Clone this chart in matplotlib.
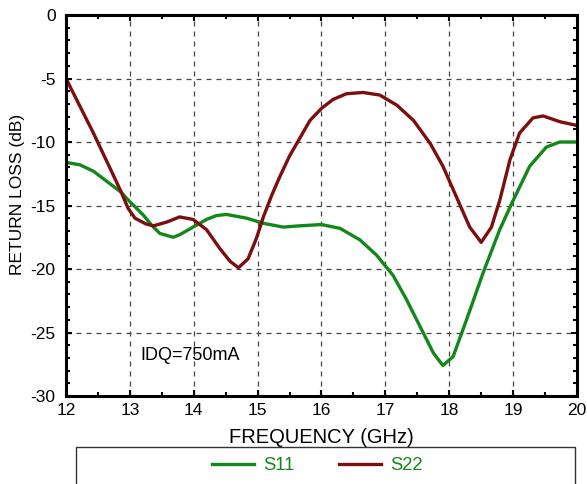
import matplotlib
matplotlib.use("Agg")
import matplotlib.pyplot as plt
from matplotlib.patches import Rectangle
from matplotlib.ticker import MultipleLocator

plt.rcParams['font.family'] = ['Liberation Sans', 'DejaVu Sans']
plt.rcParams['axes.unicode_minus'] = False

# S11
s11_freq = [12.0, 12.22, 12.43, 12.64, 12.85, 13.0, 13.21, 13.35, 13.47, 13.68,
            13.78, 13.99, 14.2, 14.35, 14.51, 14.83, 15.09, 15.4, 15.66, 16.0, 16.29,
            16.6, 16.86, 17.12, 17.33, 17.54, 17.75, 17.9, 18.06, 18.27, 18.53,
            18.79, 19.0, 19.26, 19.52, 19.73, 20.0]
s11_db = [-11.6, -11.8, -12.3, -13.1, -13.9, -14.7, -15.75, -16.6, -17.2, -17.5,
          -17.3, -16.7, -16.1, -15.8, -15.7, -16.0, -16.4, -16.7, -16.6, -16.5, -16.8,
          -17.7, -18.9, -20.5, -22.4, -24.5, -26.6, -27.6, -26.9, -24.0, -20.3,
          -16.9, -14.6, -11.9, -10.4, -10.0, -10.0]

# S22
s22_freq = [12.0, 12.22, 12.43, 12.58, 12.74, 12.87, 12.97, 13.08, 13.25, 13.37,
            13.58, 13.78, 13.99, 14.2, 14.41, 14.57, 14.7, 14.85, 14.98, 15.09,
            15.22, 15.35, 15.5, 15.66, 15.82, 16.0, 16.18, 16.39, 16.65, 16.91,
            17.18, 17.44, 17.7, 17.9, 18.11, 18.32, 18.5, 18.66, 18.79, 18.95,
            19.1, 19.31, 19.47, 19.73, 20.0]
s22_db = [-5.0, -7.2, -9.3, -10.9, -12.6, -14.0, -15.2, -16.0, -16.45, -16.6,
          -16.3, -15.9, -16.1, -16.9, -18.4, -19.4, -19.9, -19.2, -17.6, -15.9,
          -14.2, -12.7, -11.1, -9.7, -8.3, -7.35, -6.65, -6.2, -6.1, -6.3,
          -7.1, -8.3, -10.1, -11.9, -14.3, -16.7, -17.9, -16.7, -14.6, -11.4,
          -9.3, -8.1, -7.95, -8.4, -8.7]

GREEN = '#13881a'
RED = '#7d0e0e'

fig = plt.figure(figsize=(5.87, 4.84), dpi=100)
ax = fig.add_axes([0.1124, 0.1818, 0.8706, 0.7872])

l1, = ax.plot(s11_freq, s11_db, color=GREEN, lw=2.4, label='S11',
              solid_joinstyle='round')
l2, = ax.plot(s22_freq, s22_db, color=RED, lw=2.4, label='S22',
              solid_joinstyle='round')

ax.set_xlim(12, 20)
ax.set_ylim(-30, 0)
ax.xaxis.set_major_locator(MultipleLocator(1))
ax.xaxis.set_minor_locator(MultipleLocator(0.5))
ax.yaxis.set_major_locator(MultipleLocator(5))
ax.yaxis.set_minor_locator(MultipleLocator(1))
ax.tick_params(which='both', direction='in', top=True, right=True, labelsize=12.5,
               width=1.5, colors='black')
ax.tick_params(which='major', length=4)
ax.tick_params(which='minor', length=3)
ax.tick_params(axis='x', which='major', pad=5)
ax.tick_params(axis='y', which='major', pad=7.5)
ax.grid(True, which='major', color='#444444', linestyle=(0, (4, 4)), linewidth=0.9)
for s in ax.spines.values():
    s.set_linewidth(2.2)

ax.set_xlabel('FREQUENCY (GHz)', fontsize=14.5, labelpad=7.5)
ax.set_ylabel('RETURN LOSS (dB)', fontsize=12.5)
ax.yaxis.set_label_coords(-0.080, 0.528)
ax.text(13.16, -26.8, 'IDQ=750mA', fontsize=13, va='center', ha='left')

# legend box, cut off by the bottom edge as in the reference
fig.patches.append(Rectangle((76 / 587, -0.02), 499 / 587, 0.02 + 37 / 484,
                             transform=fig.transFigure, fill=False,
                             edgecolor='#333333', linewidth=1.0))
fig.legend(handles=[l1, l2], loc='center', bbox_to_anchor=(317.5 / 587, 1 - 466 / 484),
           ncol=2, frameon=False, fontsize=13.3, labelcolor=GREEN,
           handlelength=2.27, handletextpad=0.49, columnspacing=2.4)

fig.savefig('out.png', dpi=100)
